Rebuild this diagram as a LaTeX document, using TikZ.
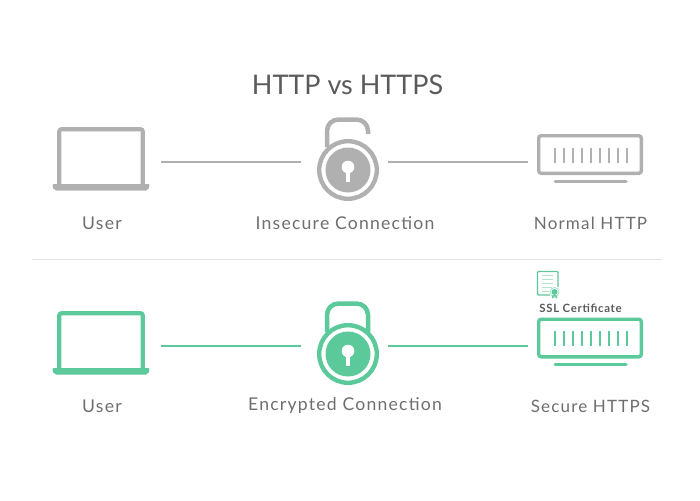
\documentclass[tikz,border=0pt]{standalone}
\usepackage{fontspec}
\setmainfont{Lato}
\newfontfamily\spacedfont[LetterSpace=7]{Lato}
\definecolor{offgray}{HTML}{B0B0B0}
\definecolor{ongreen}{HTML}{5CC99B}
\definecolor{inkgray}{HTML}{5A5A5A}
\definecolor{capgray}{HTML}{6E6E6E}
\definecolor{rulegray}{HTML}{E2E2E2}
\tikzset{
  caption/.style={font=\spacedfont\fontsize{17.6}{20}\selectfont,text=capgray,inner sep=0pt},
  endcaption/.style={font=\spacedfont\fontsize{17}{20}\selectfont,text=capgray,inner sep=0pt},
  wire/.style={line width=1.2},
}
% laptop at y offset #1, colour #2
\newcommand{\laptopicon}[2]{
\draw [#2,line width=4.2,rounded corners=2.5] (59.2,185+#1) -- (59.2,129.2+#1) -- (142.8,129.2+#1) -- (142.8,185+#1);
\fill [#2,rounded corners=2] (52,184+#1) -- (150,184+#1) -- (148,190.5+#1) -- (54,190.5+#1) -- cycle;
}
% round lock body at y offset #1, colour #2
\newcommand{\lockbody}[2]{
\draw [#2,line width=4.4] (348,170+#1) circle (28.8);
\fill [#2] (348,170+#1) circle (22.5);
\fill [white] (348,167+#1) circle (6.3);
\fill [white] (345.6,167+#1) rectangle (350.4,182+#1);
}
% server at y offset #1, colour #2
\newcommand{\servericon}[2]{
\draw [#2,line width=3.4,rounded corners=2.5] (538.7,135.7+#1) rectangle (641.3,173.3+#1);
\foreach \i in {0,...,8}
  \draw [#2,line width=2] (554.5+9*\i,147.5+#1) -- (554.5+9*\i,162.5+#1);
\draw [#2,line width=3,line cap=round] (555,181+#1) -- (626,181+#1);
}
\begin{document}
\begin{tikzpicture}[x=1pt,y=-1pt]
\useasboundingbox (0,0) rectangle (700,500);
\node (title) [font=\fontsize{27}{30}\selectfont,text=inkgray,inner sep=0pt] at (347.5,85) {HTTP vs HTTPS};
%Top row
\laptopicon{0}{offgray}
\draw [offgray,line width=4.5,line cap=butt] (327,147) -- (327,131) arc(180:270:11.5) -- (356.5,119.5) arc(270:360:11.5) -- (368,134);
\lockbody{0}{offgray}
\servericon{0}{offgray}
\coordinate (userA) at (161,162);
\coordinate (lockAin) at (301,162);
\coordinate (lockAout) at (388,162);
\coordinate (serverA) at (528,162);
\draw [offgray,wire] (userA) -- (lockAin);
\draw [offgray,wire] (lockAout) -- (serverA);
\node (userlabelA) [caption] at (102,223) {User};
\node (locklabelA) [caption] at (345,223) {Insecure Connection};
\node (serverlabelA) [endcaption] at (590.5,223) {Normal HTTP};
%Divider
\coordinate (ruleL) at (32,259.5);
\coordinate (ruleR) at (662,259.5);
\draw [rulegray,line width=1] (ruleL) -- (ruleR);
%Bottom row
\laptopicon{184}{ongreen}
\draw [ongreen,line width=4.5] (327,332) -- (327,315) arc(180:270:11.5) -- (356.5,303.5) arc(270:360:11.5) -- (368,332);
\lockbody{184}{ongreen}
\servericon{183.5}{ongreen}
\coordinate (userB) at (161,346);
\coordinate (lockBin) at (301,346);
\coordinate (lockBout) at (388,346);
\coordinate (serverB) at (528,346);
\draw [ongreen,wire] (userB) -- (lockBin);
\draw [ongreen,wire] (lockBout) -- (serverB);
\node (userlabelB) [caption] at (102,406) {User};
\node (locklabelB) [caption] at (345,406) {Encrypted Connection};
\node (serverlabelB) [endcaption] at (590.5,406) {Secure HTTPS};
%Certificate
\draw [ongreen,line width=1.1,rounded corners=1] (550,295) -- (537.5,295) -- (537.5,271.5) -- (558,271.5) -- (558,287);
\foreach \y in {275.5,279.5,283.5,287.5,291.5}
  \draw [ongreen!50,line width=1] (542,\y) -- (553,\y);
\fill [white] (554.5,292) circle (5.5);
\fill [ongreen] (552,295) -- (552,298.5) -- (554.5,297) -- (557,298.5) -- (557,295) -- cycle;
\draw [ongreen!60,line width=0.7] (554.5,292) circle (4.5);
\fill [ongreen] (554.5,292) circle (3);
\node (certlabel) [font=\fontsize{11.4}{13}\selectfont\bfseries\addfontfeature{LetterSpace=6},text=inkgray,inner sep=0pt] at (580.5,308) {SSL Certificate};
\end{tikzpicture}
\end{document}
